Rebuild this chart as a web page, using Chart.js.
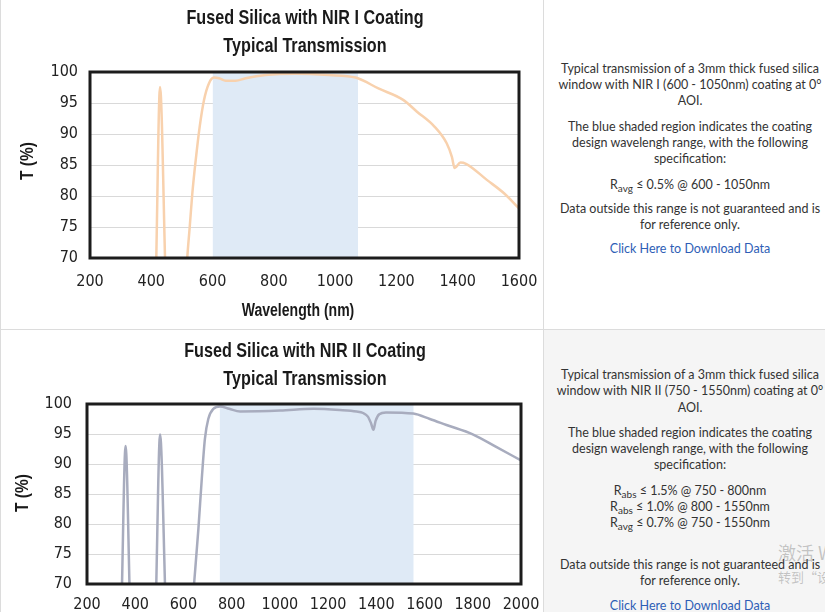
<!DOCTYPE html>
<html>
<head>
<meta charset="utf-8">
<script src="https://cdn.jsdelivr.net/npm/chart.js@4.4.0/dist/chart.umd.min.js"></script>
<style>
  body { margin:0; width:825px; height:612px; overflow:hidden; position:relative; background:#fff; font-family: Lato, sans-serif; }
  .cell { position:absolute; overflow:hidden; }
  .title { position:absolute; left:0; width:610px; text-align:center; font-family:"Liberation Sans", Arial, sans-serif; font-weight:bold; font-size:21px; line-height:28px; color:#1a1a1a; transform:scaleX(0.77); }
  .axt { position:absolute; font-family:"Liberation Sans", Arial, sans-serif; font-weight:bold; font-size:18px; line-height:20px; color:#1a1a1a; white-space:nowrap; width:200px; text-align:center; }
  canvas { position:absolute; left:0; top:0; }
  .txt { position:absolute; left:12px; width:268px; text-align:center; font-size:12.5px; line-height:16px; color:#333; white-space:nowrap; }
  .txt p { margin:0 0 10px; }
  .txt sub { font-size:10px; line-height:0; vertical-align:-3px; }
  .txt a { color:#2e5eb6; text-decoration:none; }
  .hline { position:absolute; left:0; width:825px; height:1px; background:#dcdcdc; }
  .vline { position:absolute; top:0; width:1px; height:612px; background:#dcdcdc; }
  .wm { position:absolute; left:778px; color:rgba(100,100,100,0.35); font-family:"Noto Sans CJK SC", sans-serif; white-space:nowrap; }
</style>
</head>
<body>
<div class="cell" style="left:0;top:0;width:543px;height:329px;background:#fff">
  <canvas id="c1" width="543" height="329"></canvas>
  <div class="title" style="top:3px">Fused Silica with NIR I Coating<br>Typical Transmission</div>
  <div class="axt" style="left:198px;top:300px;transform:scaleX(0.78)">Wavelength (nm)</div>
  <div class="axt" style="left:-73px;top:151px;transform:rotate(-90deg) scaleX(0.86)">T (%)</div>
</div>
<div class="cell" style="left:0;top:330px;width:543px;height:329px;background:#fff">
  <canvas id="c2" width="543" height="329"></canvas>
  <div class="title" style="top:6px">Fused Silica with NIR II Coating<br>Typical Transmission</div>
  <div class="axt" style="left:-78px;top:153px;transform:rotate(-90deg) scaleX(0.86)">T (%)</div>
</div>
<div class="cell" style="left:544px;top:0;width:281px;height:329px;background:#fff">
  <div class="txt" style="top:61px">
    <p>Typical transmission of a 3mm thick fused silica<br>window with NIR I (600 - 1050nm) coating at 0°<br>AOI.</p>
    <p>The blue shaded region indicates the coating<br>design wavelengh range, with the following<br>specification:</p>
    <p style="margin-bottom:8px">R<sub>avg</sub> ≤ 0.5% @ 600 - 1050nm</p>
    <p style="margin-bottom:8px">Data outside this range is not guaranteed and is<br>for reference only.</p>
    <p><a>Click Here to Download Data</a></p>
  </div>
</div>
<div class="cell" style="left:544px;top:330px;width:281px;height:329px;background:#f5f5f5">
  <div class="txt" style="top:37px;line-height:16.3px">
    <p style="margin-bottom:9px">Typical transmission of a 3mm thick fused silica<br>window with NIR II (750 - 1550nm) coating at 0°<br>AOI.</p>
    <p style="margin-bottom:9px">The blue shaded region indicates the coating<br>design wavelengh range, with the following<br>specification:</p>
    <p style="margin-bottom:25px">R<sub>abs</sub> ≤ 1.5% @ 750 - 800nm<br>R<sub>abs</sub> ≤ 1.0% @ 800 - 1550nm<br>R<sub>avg</sub> ≤ 0.7% @ 750 - 1550nm</p>
    <p style="margin-bottom:9px">Data outside this range is not guaranteed and is<br>for reference only.</p>
    <p><a>Click Here to Download Data</a></p>
  </div>
</div>
<div class="vline" style="left:0"></div>
<div class="vline" style="left:543px"></div>
<div class="hline" style="top:329px"></div>
<div class="wm" style="top:539px;font-size:18px">激活 Windows</div>
<div class="wm" style="top:567px;font-size:13px">转到“设置”以激活 Windows。</div>

<script>
const yTicks = [70, 75, 80, 85, 90, 95, 100];

// NIR I coating
const wl1 = [200, 411, 428.5, 452, 508, 517.6, 525.4, 533.9, 545, 558, 572.1, 588.4, 604.7, 621, 643, 675, 708, 773, 871, 980, 1067, 1143, 1222, 1267, 1324, 1364, 1381, 1390, 1409, 1427, 1495, 1552, 1600];
const t1 = [62, 62, 97.6, 62, 62, 70.2, 75.0, 80.4, 85.8, 91.2, 95.5, 98.2, 99.1, 99.0, 98.6, 98.6, 99.0, 99.5, 99.7, 99.5, 99.1, 97.3, 95.5, 93.6, 91.2, 88.5, 86.3, 84.5, 85.4, 85.2, 82.6, 80.4, 78.0];
const band1 = [600, 1075];
const xTicks1 = [200, 400, 600, 800, 1000, 1200, 1400, 1600];

// NIR II coating
const wl2 = [200, 338, 360, 384, 480, 503, 533, 628, 644, 662, 676, 689, 703, 724, 752, 790, 835, 1001, 1139, 1249, 1318, 1345, 1365, 1378, 1388, 1397, 1412, 1440, 1553, 1622, 1691, 1802, 1899, 2000];
const t2 = [62, 62, 93.0, 62, 62, 94.9, 62, 62, 70, 79.2, 87.5, 94.2, 97.5, 99.2, 99.6, 99.2, 98.75, 98.9, 99.2, 99.0, 98.75, 98.5, 97.9, 96.8, 95.7, 97.2, 98.3, 98.6, 98.4, 97.5, 96.5, 94.9, 92.8, 90.6];
const band2 = [750, 1555];
const xTicks2 = [200, 400, 600, 800, 1000, 1200, 1400, 1600, 1800, 2000];

const framePlugin = {
  id: 'frame',
  afterDatasetsDraw(chart) {
    const {ctx, chartArea: a} = chart;
    ctx.save();
    ctx.strokeStyle = '#1c1c1c';
    ctx.lineWidth = 3;
    ctx.strokeRect(a.left, a.top, a.right - a.left, a.bottom - a.top);
    ctx.restore();
  }
};

const tickFont = {family: "'DejaVu Sans Condensed', 'DejaVu Sans', sans-serif", size: 16};

function makeChart(id, wl, t, band, xTicks, lineColor, box) {
  new Chart(document.getElementById(id), {
    type: 'line',
    data: {
      datasets: [{
        data: wl.map((x, i) => ({x: x, y: t[i]})),
        borderColor: lineColor,
        borderWidth: 2.5,
        pointRadius: 0,
        cubicInterpolationMode: 'monotone',
        fill: false,
        order: 0
      }, {
        data: band.map(x => ({x: x, y: 100})),
        borderWidth: 0,
        pointRadius: 0,
        backgroundColor: '#dfeaf6',
        fill: 'start',
        order: 1
      }]
    },
    options: {
      responsive: false,
      animation: false,
      layout: {padding: {left: 0, top: box.top, right: box.right, bottom: 0}},
      plugins: {legend: {display: false}, tooltip: {enabled: false}},
      scales: {
        x: {
          type: 'linear',
          min: xTicks[0],
          max: xTicks[xTicks.length - 1],
          afterBuildTicks: s => { s.ticks = xTicks.map(v => ({value: v})); },
          afterFit: s => { s.height = box.xAxisH; s.paddingLeft = 0; s.paddingRight = 0; },
          grid: {display: false, drawTicks: false},
          border: {display: false},
          ticks: {padding: box.xTickPad, font: tickFont, color: '#222', maxRotation: 0, autoSkip: false, callback: v => String(v)}
        },
        y: {
          min: 70,
          max: 100,
          afterBuildTicks: s => { s.ticks = yTicks.map(v => ({value: v})); },
          afterFit: s => { s.width = box.yAxisW; },
          grid: {color: '#d9d9d9', lineWidth: 1, drawTicks: false},
          border: {display: false},
          ticks: {padding: box.yTickPad, font: tickFont, color: '#222', callback: v => String(v)}
        }
      }
    },
    plugins: [framePlugin]
  });
}

makeChart('c1', wl1, t1, band1, xTicks1, '#f8d1ad',
  {top: 72, right: 24, xAxisH: 71, yAxisW: 90, xTickPad: 14, yTickPad: 12});
makeChart('c2', wl2, t2, band2, xTicks2, '#a8acbe',
  {top: 74, right: 22, xAxisH: 75, yAxisW: 87, xTickPad: 11, yTickPad: 15});
</script>
</body>
</html>
